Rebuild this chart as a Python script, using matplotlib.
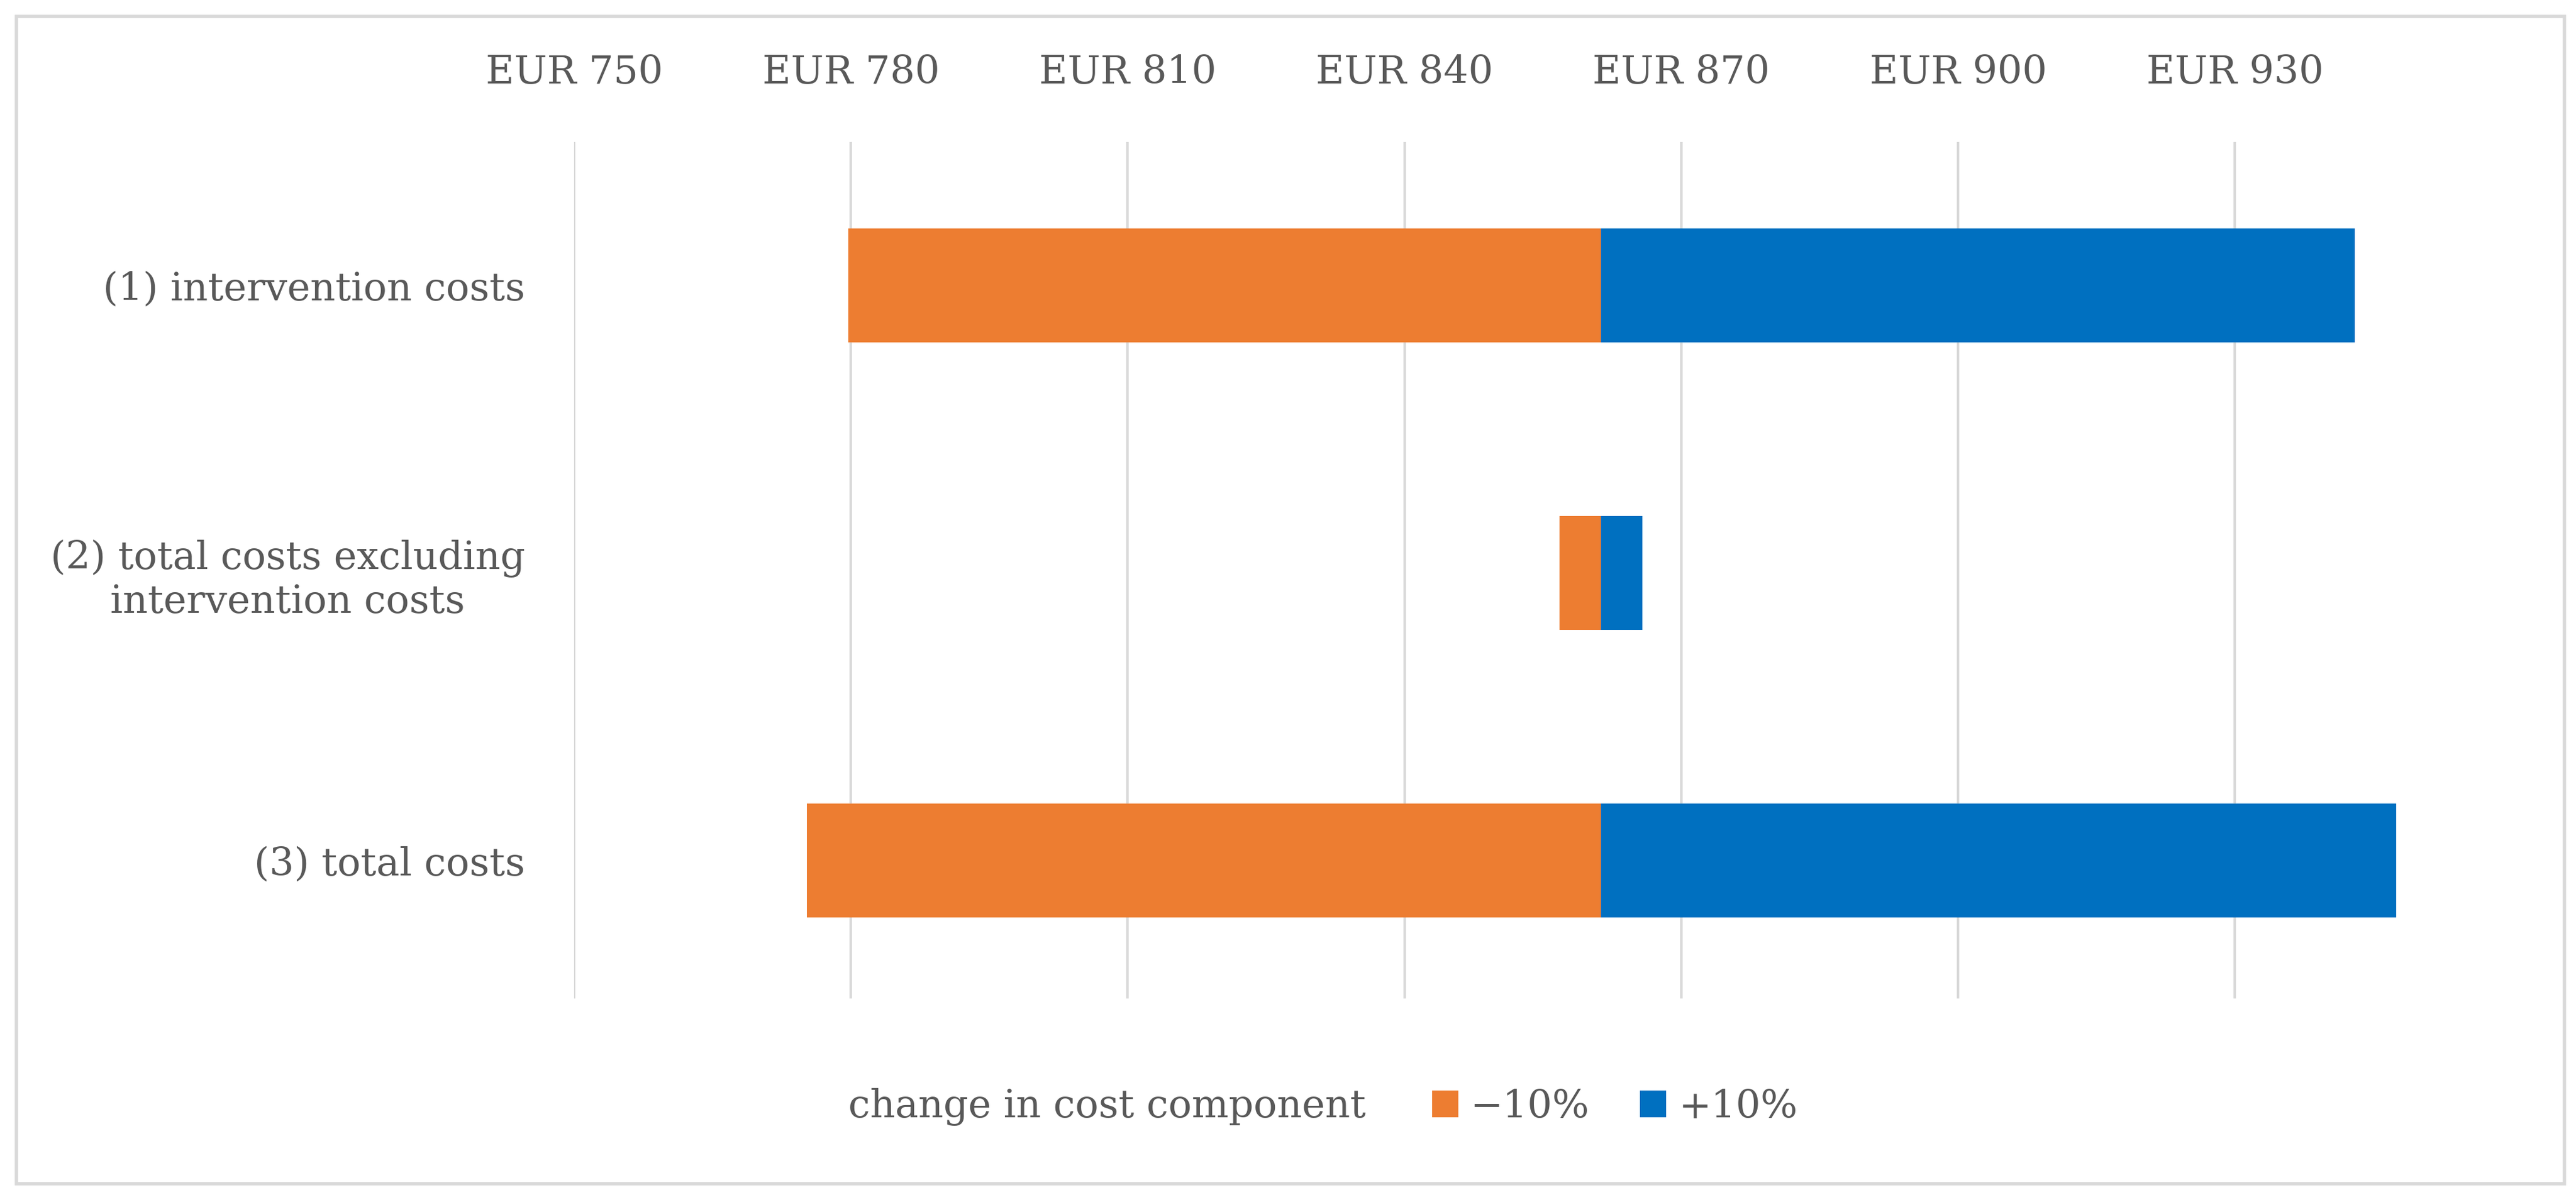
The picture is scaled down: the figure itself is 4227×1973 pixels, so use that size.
import matplotlib
matplotlib.use("Agg")
import matplotlib.pyplot as plt
from matplotlib.patches import Patch, Rectangle

# ---- data ----
categories = ["(1) intervention costs",
              "(2) total costs excluding\nintervention costs",
              "(3) total costs"]
base_value = 861.3
low_values = [779.7, 856.8, 775.2]    # -10% change
high_values = [943.0, 865.8, 947.5]   # +10% change
series_labels = ["\u221210%", "+10%"]
xticks = [750, 780, 810, 840, 870, 900, 930]
xtick_labels = [f"EUR {v}" for v in xticks]

ORANGE = "#ED7D31"
BLUE = "#0070C0"
TXT = "#595959"
GRID = "#D9D9D9"
FONT = ["DejaVu Serif"]
FS = 46

W, H = 4227, 1973
fig = plt.figure(figsize=(W / 100, H / 100), dpi=100)
plt.rcParams["font.family"] = FONT

ax = fig.add_axes([942 / W, 1 - 1639 / H, (3970 - 942) / W, (1639 - 233) / H])

ypos = list(range(len(categories)))
bh = 0.396
ax.barh(ypos, [base_value - l for l in low_values], left=low_values,
        height=bh, color=ORANGE, zorder=3, label=series_labels[0])
ax.barh(ypos, [h - base_value for h in high_values], left=[base_value] * 3,
        height=bh, color=BLUE, zorder=3, label=series_labels[1])

ax.set_xlim(750, 950)
ax.set_ylim(2.48, -0.5)
ax.set_xticks(xticks)
ax.set_xticklabels(xtick_labels)
ax.xaxis.tick_top()
ax.set_yticks(ypos)
ax.set_yticklabels(categories)
for lab in ax.get_yticklabels():
    lab.set_multialignment("center")

ax.tick_params(axis="x", which="both", length=0, pad=60, labelsize=FS, labelcolor=TXT)
ax.tick_params(axis="y", which="both", length=0, pad=58, labelsize=FS, labelcolor=TXT)
for s in ax.spines.values():
    s.set_visible(False)
ax.grid(axis="x", color=GRID, linewidth=3, zorder=0)
ax.set_axisbelow(True)

# legend
fig.text(1392 / W, 1 - 1817 / H, "change in cost component", fontsize=FS,
         color=TXT, ha="left", va="center")
handles = [Patch(facecolor=ORANGE), Patch(facecolor=BLUE)]
leg = fig.legend(handles, series_labels, loc="center left",
                 bbox_to_anchor=(2350 / W, 1 - 1817 / H), ncol=2, frameon=False,
                 fontsize=FS, handlelength=0.67, handleheight=0.67,
                 handletextpad=0.31, columnspacing=1.3, borderpad=0,
                 borderaxespad=0)
for t in leg.get_texts():
    t.set_color(TXT)

# outer border
fig.add_artist(Rectangle((27 / W, 1 - 1943 / H), (4208 - 27) / W, (1943 - 27) / H,
                         transform=fig.transFigure, fill=False,
                         edgecolor=GRID, linewidth=4))

fig.savefig("out.png", dpi=100, facecolor="white")
